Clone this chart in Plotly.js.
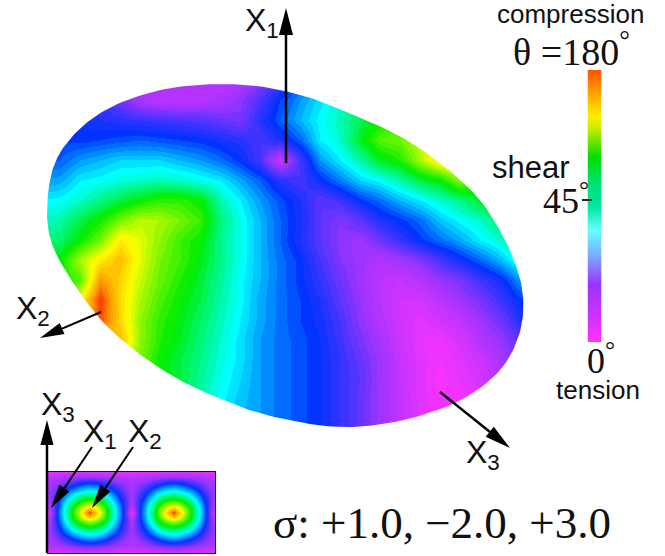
<!DOCTYPE html>
<html><head><meta charset="utf-8">
<script src="https://cdn.plot.ly/plotly-3.0.1.min.js"></script>
<style>html,body{margin:0;padding:0;background:#fff}#c{width:665px;height:556px}</style>
</head><body><div id="c"></div>
<script>
var W = 665, H = 556;

// Main disc: shear angle level read on a regular grid of the picture
var mainX = [40,60,80,100,120,140,160,180,200,220,240,260,280,300,320,340,360,380,400,420,440,460,480,500,520];
var mainY = [80,100,120,140,160,180,200,220,240,260,280,300,320,340,360,380,400,420,440];
var mainZ = [
 [32,32,32,30,26,22,16,13,12,12,14,18,26,35,40,46,52,60,66,72,80,86,88,88,88],
 [32,32,30,28,22,15,12,12,13,15,19,26,34,40,45,50,56,62,68,74,80,86,88,88,88],
 [33,33,32,30,29,28,27,26,25,23,21,29,36,42,47,51,57,62,68,74,80,86,88,88,88],
 [34,34,33,34,35,36,35,34,33,31,29,26,30,36,46,50,60,68,70,76,86,90,88,86,84],
 [35,36,40,42,44,44,44,42,40,37,33,26,10,26,40,46,52,60,64,74,84,88,85,80,78],
 [40,41,46,47,49,50,51,50,48,46,41,36,29,26,32,38,44,47,52,58,62,72,66,62,60],
 [46,47,50,54,58,62,65,65,62,52,46,40,35,30,24,27,33,37,42,46,50,54,60,64,64],
 [50,52,58,63,70,75,74,70,66,55,48,42,36,31,24,20,24,30,33,37,43,47,50,56,60],
 [55,56,62,70,82,78,72,66,62,54,48,42,36,30,24,19,17,22,28,33,37,41,46,50,56],
 [60,62,74,82,88,78,70,66,61,54,48,42,37,33,26,20,17,14,16,20,26,31,36,42,50],
 [60,62,68,92,85,76,69,64,59,53,47,42,37,33,28,22,17,12,10,13,18,21,27,31,40],
 [60,62,80,100,84,74,67,62,58,52,47,41,37,34,30,24,18,12,8,8,12,17,21,27,33],
 [60,62,80,98,85,72,65,61,56,51,46,41,37,34,31,26,19,13,8,5,8,11,17,22,30],
 [60,62,70,85,88,72,64,60,55,50,45,40,37,35,32,27,21,15,9,4,3,7,13,18,24],
 [60,62,68,76,80,70,62,58,54,49,45,40,37,35,32,28,23,17,10,5,2,5,9,15,22],
 [60,62,66,72,76,68,62,58,53,48,44,40,37,35,32,28,24,17,10,5,1,4,7,12,18],
 [60,60,64,70,72,66,60,56,52,47,43,40,37,35,32,28,23,17,11,5,2,3,6,10,15],
 [60,60,62,68,70,66,58,55,51,46,42,40,37,35,32,28,23,17,11,6,3,3,6,10,15],
 [60,60,62,66,68,64,58,55,51,46,42,40,37,35,32,28,23,17,11,6,3,3,6,10,15]
];
// Outline of the disc
var rimX = [47,50,57,67,83,107,140,173,207,240,273,313,347,380,413,447,480,500,512,522,524,520,507,487,457,427,397,363,330,297,257,223,190,157,130,107,90,73,54,47];
var rimY = [203,177,157,142,125,108,95,87,84,84,88,98,112,126,143,168,198,230,254,283,310,335,363,384,403,414,422,427,427,422,413,400,386,367,347,327,307,283,252,226];

// Inset section: one quadrant of a cell, from its centre outwards
var insetQuadrant = [
 [100,88,78,66,55,47,37,22,5],
 [85,80,72,64,54,46,36,24,12],
 [70,68,64,58,50,43,34,24,14],
 [60,58,56,51,45,39,31,23,16],
 [50,49,47,44,39,34,27,21,17],
 [42,41,39,36,32,28,23,19,16],
 [33,32,30,27,24,21,18,16,14],
 [20,19,18,17,16,15,14,13,12],
 [7,7,7,7,7,7,6,6,5]
];
// Two cells side by side, mirrored from the quadrant
var insetZ = (function(){
 var half = insetQuadrant.map(function(r){
  var a = r.slice(1).reverse().concat(r);
  return a.concat(a.slice(1));
 });
 return half.slice(1).reverse().concat(half);
})();

// Colour key
var keyLevels = [0,10,21.5,31,41,50,59,68,79,83,92.6,100];
var keyColors = ['#ff33ff','#cc33ff','#9933ff','#7ea0ff','#66ffff','#00e6a0','#00e070','#00dd00','#ccee00','#ffee00','#ff9900','#ff5500'];

// Disc colours
var mainLevels = [0,18,33,47,62,80,92,100];
var mainColors = ['#ff33ff','#9933ff','#0033ff','#00ffff','#00ee00','#ffff00','#ff9900','#ff3300'];
var bandStep = 2;

function scale(l,c){return l.map(function(v,i){return [v/100,c[i]];});}
function px(x){return x/W;}
function py(y){return 1-y/H;}
function hex(c){return [parseInt(c.substr(1,2),16),parseInt(c.substr(3,2),16),parseInt(c.substr(5,2),16)];}
function colourAt(v){
 var i=0; while(i<mainLevels.length-2 && v>mainLevels[i+1]) i++;
 var f=(v-mainLevels[i])/(mainLevels[i+1]-mainLevels[i]),a=hex(mainColors[i]),b=hex(mainColors[i+1]);
 return 'rgb('+a.map(function(q,k){return Math.round(q+(b[k]-q)*f);}).join(',')+')';
}
// The disc is painted in narrow flat bands, as in the picture
var bandScale = (function(){
 var out=[];
 for(var v=0;v<100;v+=bandStep){
  var c=colourAt(v+bandStep/2);
  out.push([v/100,c]); out.push([Math.min(1,(v+bandStep)/100),c]);
 }
 return out;
})();

// Rounded rim without overshoot (corner cutting on the closed outline)
function rounded(xs,ys,n){
 var X=xs.slice(),Y=ys.slice();
 for(var k=0;k<n;k++){
  var nx=[],ny=[];
  X.forEach(function(x,i){
   var j=(i+1)%X.length;
   nx.push(.75*x+.25*X[j],.25*x+.75*X[j]);
   ny.push(.75*Y[i]+.25*Y[j],.25*Y[i]+.75*Y[j]);
  });
  X=nx;Y=ny;
 }
 return [X,Y];
}
var rim = rounded(rimX,rimY,3);
// Mask outside the disc (keyhole polygon: rim walked against the frame's direction)
var rimXr = rim[0].reverse(), rimYr = rim[1].reverse();
rimXr.push(rimXr[0]); rimYr.push(rimYr[0]);
var maskX = [0,700,700,0,0].concat(rimXr).concat([0]);
var maskY = [0,0,600,600,rimYr[0]].concat(rimYr).concat([rimYr[0]]);

var traces = [
 {type:'heatmap',x:mainX,y:mainY,z:mainZ,zmin:0,zmax:100,zsmooth:'best',colorscale:bandScale,showscale:false,hoverinfo:'skip',xaxis:'x',yaxis:'y'},
 {type:'scatter',mode:'lines',x:maskX,y:maskY,fill:'toself',fillcolor:'#fff',line:{width:0,color:'#fff'},hoverinfo:'skip',showlegend:false,xaxis:'x',yaxis:'y'},
 {type:'heatmap',z:insetZ,zmin:0,zmax:100,zsmooth:'best',colorscale:scale(mainLevels,mainColors),showscale:false,hoverinfo:'skip',xaxis:'x2',yaxis:'y2'},
 {type:'heatmap',x:[0,1],y:keyLevels,z:keyLevels.map(function(v){return [v,v];}),zmin:0,zmax:100,zsmooth:'best',colorscale:scale(keyLevels,keyColors),showscale:false,hoverinfo:'skip',xaxis:'x3',yaxis:'y3'}
];

function hidden(domain,range){return {domain:domain,range:range,visible:false,fixedrange:true};}

var shapes = [], C = '#000';
function arrow(x0,y0,x1,y1,len,wid,lw){
 var d=Math.hypot(x1-x0,y1-y0),ux=(x1-x0)/d,uy=(y1-y0)/d;
 var bx=x1-ux*len,by=y1-uy*len,nx=-uy*wid/2,ny=ux*wid/2;
 shapes.push({type:'line',xref:'paper',yref:'paper',x0:px(x0),y0:py(y0),x1:px(bx),y1:py(by),line:{color:C,width:lw}});
 shapes.push({type:'path',xref:'paper',yref:'paper',fillcolor:C,line:{width:0},
  path:'M'+px(x1)+' '+py(y1)+'L'+px(bx+nx)+' '+py(by+ny)+'L'+px(bx-nx)+' '+py(by-ny)+'Z'});
}
arrow(286,163,286,8,27,14,2.5);
arrow(101,312,40,338,24,12,2);
arrow(440,392,510,448,26,13,2.5);
arrow(47,553,47,420,25,13,2.5);
arrow(92,447,51,508,24,12,2);
arrow(133,447,92,508,24,12,2);
// 45 degree tick on the colour key
shapes.push({type:'line',xref:'paper',yref:'paper',x0:px(582),x1:px(592),y0:py(200),y1:py(200),line:{color:'#222',width:2}});

var SANS='"Liberation Sans", Arial, sans-serif', SERIF='"Liberation Serif", "Times New Roman", serif';
function label(t,x,y,size,font,anchor){
 return {text:t,xref:'paper',yref:'paper',x:px(x),y:py(y),xanchor:anchor||'center',yanchor:'middle',showarrow:false,
  font:{family:font,size:size,color:'#111'}};
}
var annotations = [
 label('compression',570,14,26,SANS),
 label('θ =180<sup>°</sup>',571,49,38,SERIF),
 label('shear',531,167,31,SANS),
 label('45<sup>°</sup>',566,198,36,SERIF),
 label('0<sup>°</sup>',601,358,36,SERIF),
 label('tension',598,390,26,SANS),
 label('X<sub>1</sub>',243,23,32,SANS,'left'),
 label('X<sub>2</sub>',14,310,32,SANS,'left'),
 label('X<sub>3</sub>',464,454,32,SANS,'left'),
 label('X<sub>3</sub>',39,406,32,SANS,'left'),
 label('X<sub>1</sub>',81,433,32,SANS,'left'),
 label('X<sub>2</sub>',126,433,32,SANS,'left'),
 label('σ: +1.0, −2.0, +3.0',442,523,45,SERIF)
];

var layout = {
 width:W,height:H,margin:{l:0,r:0,t:0,b:0},paper_bgcolor:'#fff',plot_bgcolor:'rgba(0,0,0,0)',showlegend:false,
 xaxis:hidden([px(30),px(530)],[30,530]),
 yaxis:hidden([py(445),py(75)],[445,75]),
 xaxis2:{domain:[px(48),px(215)],range:[0,32],showticklabels:false,ticks:'',showgrid:false,zeroline:false,showline:true,mirror:true,linecolor:'#220044',linewidth:1,fixedrange:true,anchor:'y2'},
 yaxis2:{domain:[py(553),py(472)],range:[0,16],showticklabels:false,ticks:'',showgrid:false,zeroline:false,showline:true,mirror:true,linecolor:'#220044',linewidth:1,fixedrange:true,anchor:'x2'},
 xaxis3:Object.assign(hidden([px(587.5),px(601.5)],[0,1]),{anchor:'y3'}),
 yaxis3:Object.assign(hidden([py(342),py(70)],[0,100]),{anchor:'x3'}),
 shapes:shapes,annotations:annotations
};
Plotly.newPlot('c',traces,layout,{displayModeBar:false,staticPlot:true});
</script></body></html>
